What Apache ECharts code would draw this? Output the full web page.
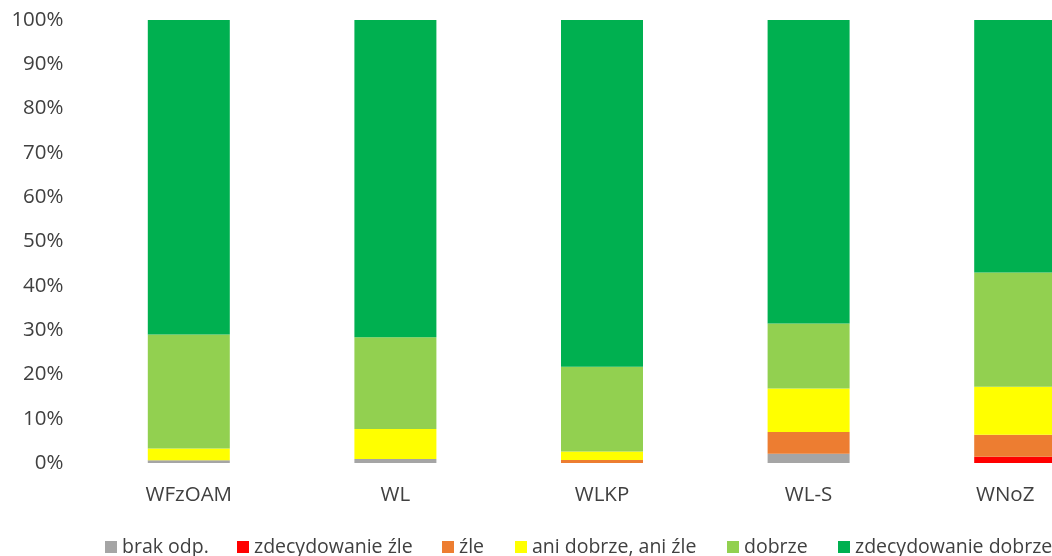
<!DOCTYPE html>
<html>
<head>
<meta charset="utf-8">
<script src="https://cdn.jsdelivr.net/npm/echarts@6/dist/echarts.min.js"></script>
<style>
  html, body { margin: 0; padding: 0; background: #ffffff; }
  #chart { width: 1052px; height: 556px; }
</style>
</head>
<body>
<div id="chart"></div>
<script>
// Categories (faculties) and percentage shares for each answer
const categories = ['WFzOAM', 'WL', 'WLKP', 'WL-S', 'WNoZ'];

const brakOdp            = [0.6, 0.9, 0.0, 2.1, 0.0];
const zdecydowanieZle    = [0.0, 0.0, 0.0, 0.0, 1.4];
const zle                = [0.0, 0.0, 0.7, 4.9, 5.0];
const aniDobrzeAniZle    = [2.7, 6.8, 1.9, 9.8, 10.8];
const dobrze             = [25.7, 20.7, 19.1, 14.7, 25.8];
const zdecydowanieDobrze = [71.0, 71.6, 78.3, 68.5, 57.0];

const seriesNames  = ['brak odp.', 'zdecydowanie źle', 'źle', 'ani dobrze, ani źle', 'dobrze', 'zdecydowanie dobrze'];
const seriesValues = [brakOdp, zdecydowanieZle, zle, aniDobrzeAniZle, dobrze, zdecydowanieDobrze];
const seriesColors = ['#A5A5A5', '#FF0000', '#ED7D31', '#FFFF00', '#92D050', '#00B050'];

// Left edge of each legend entry
const legendLeft = [105, 237, 442, 515, 727, 838];

const FONT = '"Open Sans", "Noto Sans", sans-serif';
const AXIS_FONT_SIZE = 20.5;
const LEGEND_FONT_SIZE = 19.5;
const TEXT_COLOR = '#404040';

const chart = echarts.init(document.getElementById('chart'), null, { renderer: 'canvas' });

const legends = seriesNames.map((name, i) => ({
  data: [name],
  left: legendLeft[i],
  top: 537,
  padding: 0,
  icon: 'rect',
  itemWidth: 12,
  itemHeight: 12,
  selectedMode: false,
  textStyle: { fontFamily: FONT, fontSize: LEGEND_FONT_SIZE, color: TEXT_COLOR }
}));

chart.setOption({
  animation: false,
  backgroundColor: '#ffffff',
  // the plot runs past the right edge of the canvas, clipping the last column
  grid: {
    left: 85.5, top: 20, width: 1033, height: 443,
    containLabel: false,
    outerBoundsMode: 'none'
  },
  legend: legends,
  xAxis: {
    type: 'category',
    data: categories,
    axisLine: { show: false },
    axisTick: { show: false },
    axisLabel: {
      margin: 22,
      fontFamily: FONT,
      fontSize: AXIS_FONT_SIZE,
      color: TEXT_COLOR,
      // the last label is nudged left so it stays inside the canvas
      formatter: (v, idx) => idx === categories.length - 1 ? '{edge|' + v + '}' : v,
      rich: {
        edge: { fontFamily: FONT, fontSize: AXIS_FONT_SIZE, color: TEXT_COLOR, padding: [0, 20, 0, 0] }
      }
    }
  },
  yAxis: {
    type: 'value',
    min: 0,
    max: 100,
    interval: 10,
    axisLine: { show: false },
    axisTick: { show: false },
    splitLine: { show: false },
    axisLabel: { margin: 22, fontFamily: FONT, fontSize: AXIS_FONT_SIZE, color: TEXT_COLOR, formatter: '{value}%' }
  },
  series: seriesNames.map((name, i) => ({
    name: name,
    type: 'bar',
    stack: 'total',
    barWidth: 82,
    data: seriesValues[i],
    itemStyle: { color: seriesColors[i] }
  }))
});
</script>
</body>
</html>
